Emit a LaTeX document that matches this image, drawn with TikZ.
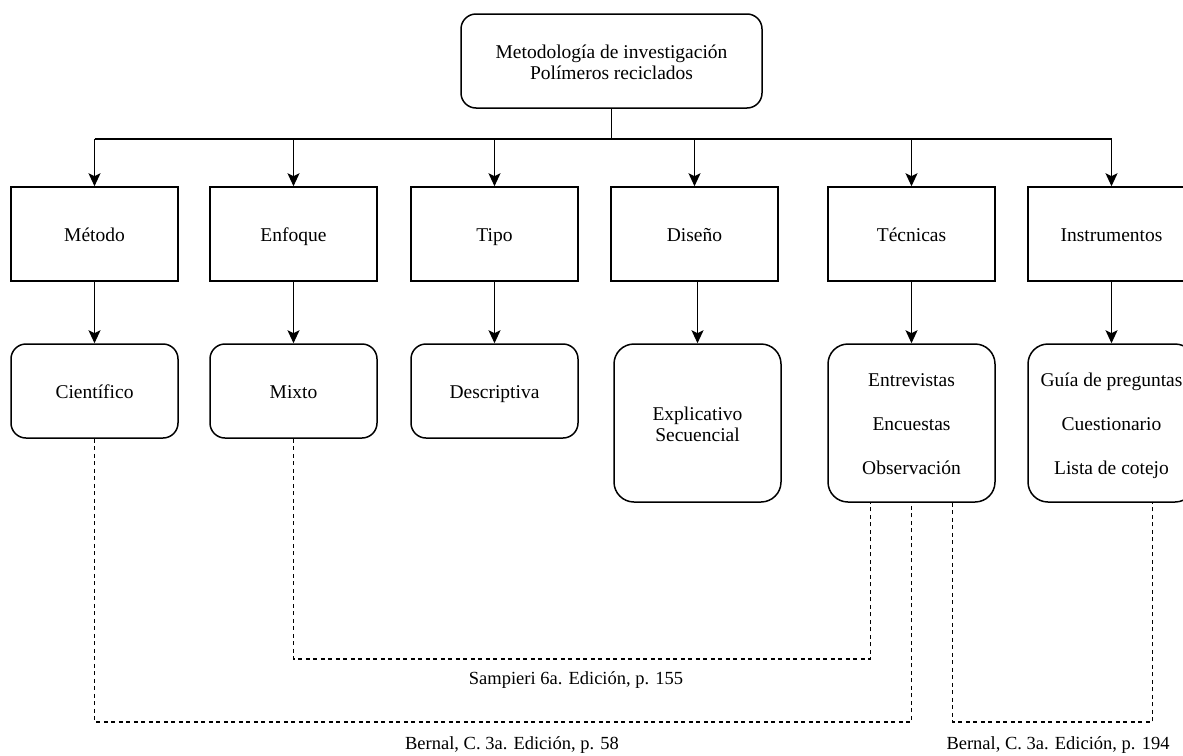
\documentclass[tikz,border=0pt]{standalone}
\usepackage{fontspec}
\setmainfont{Liberation Serif}
\usetikzlibrary{arrows.meta,calc}
\begin{document}
\begin{tikzpicture}[x=1pt,y=-1pt,
  box/.style={draw,line width=1.5pt,minimum width=167pt,minimum height=94pt,inner sep=0pt,font=\fontsize{19.5}{21}\selectfont,align=center,
    execute at begin node=\rule{0pt}{20.4pt}, execute at end node=\rule[-5pt]{0pt}{5pt}},
  rbox/.style={box,rounded corners=15pt},
  twolines/.style={text height=41.4pt,text depth=5pt},
  threelines/.style={text height=108.4pt,text depth=5pt},
  tall/.style={rbox,minimum height=158pt,rounded corners=20pt},
  conn/.style={line width=1.5pt},
  arr/.style={conn,-{Stealth[length=13pt,width=12pt,inset=3pt]}},
  ref/.style={line width=1.3pt,dash pattern=on 4pt off 3.5pt},
  lbl/.style={font=\fontsize{18.5}{20}\selectfont,inner sep=0pt}]
\useasboundingbox (0,0) rectangle (1183,755);
\fill[white] (0,0) rectangle (1183,755);
\clip (0,0) rectangle (1183,755);

\node[rbox,twolines,minimum width=301pt] (top) at (611.5,61) {Metodología de investigación\\Polímeros reciclados};

\node[box] (m1) at (94.5,234) {Método};
\node[box] (e1) at (293.5,234) {Enfoque};
\node[box] (p1) at (494.5,234) {Tipo};
\node[box] (d1) at (694.5,234) {Diseño};
\node[box] (t1) at (911.5,234) {Técnicas};
\node[box] (i1) at (1111.5,234) {Instrumentos};

\node[rbox] (m2) at (94.5,391) {Científico};
\node[rbox] (e2) at (293.5,391) {Mixto};
\node[rbox] (p2) at (494.5,391) {Descriptiva};
\node[tall,twolines] (d2) at (697.5,423) {Explicativo\\Secuencial};
\node[tall,threelines] (t2) at (911.5,423) {Entrevistas\\[23pt]Encuestas\\[23pt]Observación};
\node[tall,threelines] (i2) at (1111.5,423) {Guía de preguntas\\[23pt]Cuestionario\\[23pt]Lista de cotejo};

\coordinate (bus) at (611.5,139);
\draw[conn] (top.south) -- (bus);
\draw[conn] (m1.north |- bus) -- (i1.north |- bus);
\foreach \n in {m1,e1,p1,d1,t1,i1}{\draw[arr] (\n.north |- bus) -- (\n.north);}
\draw[arr] (m1.south) -- (m2.north);
\draw[arr] (e1.south) -- (e2.north);
\draw[arr] (p1.south) -- (p2.north);
\draw[arr] (d2.north |- d1.south) -- (d2.north);
\draw[arr] (t1.south) -- (t2.north);
\draw[arr] (i1.south) -- (i2.north);

\coordinate (yA) at (0,659);
\coordinate (yB) at (0,722);
\coordinate (tl) at ([xshift=-41pt]t2.south);
\coordinate (tm) at (t2.south);
\coordinate (tr) at ([xshift=41pt]t2.south);
\coordinate (ir) at ([xshift=41pt]i2.south);
\draw[ref] (e2.south) |- (yA -| tl) -- (tl);
\draw[ref] (m2.south) |- (yB -| tm) -- (tm);
\draw[ref] (tr) |- (yB -| ir) -- (ir);

\node[lbl] (l1) at (576,680) {Sampieri 6a. Edición, p. 155};
\node[lbl] (l2) at (512,745) {Bernal, C. 3a. Edición, p. 58};
\node[lbl] (l3) at (1058,745) {Bernal, C. 3a. Edición, p. 194};
\end{tikzpicture}
\end{document}
